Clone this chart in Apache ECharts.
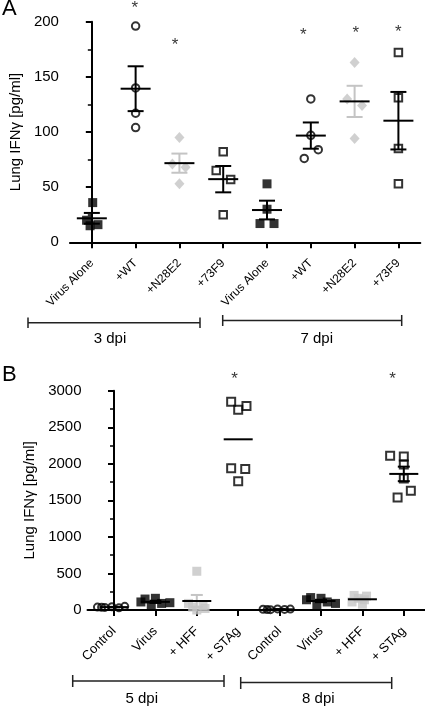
<!DOCTYPE html>
<html><head><meta charset="utf-8">
<script src="https://cdn.jsdelivr.net/npm/echarts@6/dist/echarts.min.js"></script>
<style>html,body{margin:0;padding:0;background:#fff}#c{width:425px;height:709px}</style>
</head><body><div id="c"></div><script>
// ---------- Panel A data ----------
const catsA = ['Virus Alone','+WT','+N28E2','+73F9','Virus Alone','+WT','+N28E2','+73F9'];
const ticksA = [0, 50, 100, 150, 200];
const virus3 = [36, 20, 15, 16];      const virus3J = [0.02, -0.12, -0.04, 0.14];
const wt3 = [196, 140, 117, 104];     const wt3J = [0, 0, 0, 0];
const n28e2_3 = [95, 71, 68, 53];     const n28e2_3J = [0, -0.16, 0.14, 0];
const f73_3 = [82, 65, 57, 25];       const f73_3J = [0, -0.16, 0.17, 0];
const virus7 = [53, 30, 17, 17];      const virus7J = [0, 0, -0.16, 0.16];
const wt7 = [130, 97, 84, 76];        const wt7J = [0, 0, 0.17, -0.15];
const n28e2_7 = [163, 130, 124, 94];  const n28e2_7J = [0, -0.17, 0.17, 0];
const f73_7 = [172, 131, 85, 53];     const f73_7J = [0, 0, 0, 0];
const starsA_x = [0.98, 1.9, 4.83, 6.03, 7.0];
const starsA_y = [216, 182, 191, 193, 194];

// ---------- Panel B data ----------
const catsB = ['Control','Virus','+ HFF','+ STAg','Control','Virus','+ HFF','+ STAg'];
const ticksB = [0, 500, 1000, 1500, 2000, 2500, 3000];
const ctrl5 = [40, 35, 45, 30, 50, 38];          const ctrl5J = [-0.4, -0.22, -0.05, 0.12, 0.26, -0.3];
const virus5 = [150, 160, 110, 90, 100, 60];     const virus5J = [-0.25, 0.0, -0.35, 0.15, 0.35, -0.1];
const hff5 = [530, 90, 60, 40, 20, 0];           const hff5J = [0, -0.2, 0.15, -0.1, 0.2, 0];
const stag5 = [2850, 2790, 2740, 1940, 1930, 1760]; const stag5J = [-0.17, 0.2, 0.0, -0.17, 0.17, 0];
const ctrl8 = [10, 5, 15, 8, 12, 6];             const ctrl8J = [-0.4, -0.22, -0.05, 0.12, 0.26, -0.3];
const virus8 = [170, 160, 140, 110, 90, 70];     const virus8J = [-0.25, 0.0, -0.35, 0.15, 0.35, -0.1];
const hff8 = [200, 190, 160, 140, 110, 80];      const hff8J = [-0.2, 0.1, -0.1, 0.05, -0.25, 0.0];
const stag8 = [2110, 2100, 1990, 1800, 1630, 1540]; const stag8J = [-0.33, 0.0, 0.0, 0.0, 0.17, -0.15];
const showErrB = [1, 1, 1, 0, 1, 1, 1, 1];
const starsB_x = [2.91, 6.73];
const starsB_y = [3215, 3215];

// ---------- helpers ----------
const BLACK = '#000', GRAY = '#c4c4c4';
const FONT = 'Liberation Sans, Arial, Helvetica, sans-serif';
function mean(a){ return a.reduce((s,v)=>s+v,0)/a.length; }
function sem(a){ const m=mean(a); const v=a.reduce((s,x)=>s+(x-m)*(x-m),0)/(a.length-1); return Math.sqrt(v/a.length); }
function pts(vals, jit, idx){ return vals.map((v,i)=>[idx + jit[i], v]); }

const groupsA = [[virus3,virus3J],[wt3,wt3J],[n28e2_3,n28e2_3J],[f73_3,f73_3J],[virus7,virus7J],[wt7,wt7J],[n28e2_7,n28e2_7J],[f73_7,f73_7J]];
const grayA = [0,0,1,0,0,0,1,0];
const groupsB = [[ctrl5,ctrl5J],[virus5,virus5J],[hff5,hff5J],[stag5,stag5J],[ctrl8,ctrl8J],[virus8,virus8J],[hff8,hff8J],[stag8,stag8J]];
const grayB = [0,0,1,0,0,0,1,0];

function msData(groups, gray, show){
  return groups.map((g,i)=>[i, mean(g[0]), sem(g[0]), gray[i], show ? show[i] : 1]);
}
function makeRender(halfW, capW){
  return function(params, api){
    const x = api.value(0), m = api.value(1), s = api.value(2), g = api.value(3), sh = api.value(4);
    const c = api.coord([x, m]);
    const children = [];
    const col = g ? GRAY : BLACK;
    if (sh) {
      const t = api.coord([x, m + s]), b = api.coord([x, m - s]);
      children.push({type:'line', shape:{x1:c[0], y1:t[1], x2:c[0], y2:b[1]}, style:{stroke:col, lineWidth:2}});
      children.push({type:'line', shape:{x1:c[0]-capW, y1:t[1], x2:c[0]+capW, y2:t[1]}, style:{stroke:col, lineWidth:2}});
      children.push({type:'line', shape:{x1:c[0]-capW, y1:b[1], x2:c[0]+capW, y2:b[1]}, style:{stroke:col, lineWidth:2}});
    }
    children.push({type:'line', shape:{x1:c[0]-halfW, y1:c[1], x2:c[0]+halfW, y2:c[1]}, style:{stroke:BLACK, lineWidth:2}});
    return {type:'group', children};
  };
}

function xAxisCfg(grid, min, cats, fs){
  return {
    gridIndex: grid, type:'value', min:min, max:7.5,
    axisLine:{show:true, onZero:false, lineStyle:{color:BLACK, width:2}},
    axisTick:{show:true, customValues:[0,1,2,3,4,5,6,7], length:6, lineStyle:{color:BLACK, width:2}},
    axisLabel:{show:true, customValues:[0,1,2,3,4,5,6,7], rotate:45, margin:19, fontSize:fs, fontFamily:FONT, color:BLACK,
      formatter:(v)=>cats[Math.round(v)]},
    splitLine:{show:false}
  };
}
function yAxisCfg(grid, max, interval, gap, ticks, lblMargin){
  return {
    gridIndex: grid, type:'value', min:0, max:max, interval:interval,
    name:'Lung IFNγ [pg/ml]', nameLocation:'middle', nameGap:gap,
    nameTextStyle:{fontSize:15, fontFamily:FONT, color:BLACK},
    axisLine:{show:true, lineStyle:{color:BLACK, width:2}},
    axisTick:{show:true, length:6, lineStyle:{color:BLACK, width:2}},
    minorTick:{show:true, splitNumber:2, length:4, lineStyle:{color:BLACK, width:1.5}},
    axisLabel:{fontSize:15, fontFamily:FONT, color:BLACK, margin:lblMargin,
      formatter:(v)=>{ const t = ticks.find(k=>Math.abs(k-v)<1e-6); return t===undefined ? '' : String(t); }},
    splitLine:{show:false}
  };
}

const openCircle = {symbol:'circle', symbolSize:7.5, itemStyle:{color:'rgba(255,255,255,0)', borderColor:BLACK, borderWidth:2}};
const openSquare = {symbol:'rect', symbolSize:7.5, itemStyle:{color:'rgba(255,255,255,0)', borderColor:BLACK, borderWidth:2}};
const fillSquare = {symbol:'rect', symbolSize:9, itemStyle:{color:BLACK}};
const grayDiamond = {symbol:'diamond', symbolSize:[10,11], itemStyle:{color:GRAY}};
const graySquare = {symbol:'rect', symbolSize:9, itemStyle:{color:GRAY}};

function sc(ax, style, data){
  return Object.assign({type:'scatter', xAxisIndex:ax, yAxisIndex:ax, clip:false, data:data, z:2}, style);
}
function starSeries(ax, xs, ys){
  return {type:'scatter', xAxisIndex:ax, yAxisIndex:ax, clip:false, symbolSize:1, itemStyle:{color:'rgba(0,0,0,0)'},
    silent:true, z:5,
    label:{show:true, position:'inside', formatter:'*', fontSize:17, fontFamily:FONT, color:BLACK, offset:[0,4]},
    data: xs.map((x,i)=>[x, ys[i]])};
}

const chart = echarts.init(document.getElementById('c'), null, {renderer:'canvas'});
chart.setOption({
  animation:false,
  backgroundColor:'#fff',
  grid:[
    {left:68.7, right:4.7, top:21.7, bottom:709-242.3},
    {left:87.5, right:0.5, top:390.7, bottom:99}
  ],
  xAxis:[xAxisCfg(0, -0.5, catsA, 12), xAxisCfg(1, -0.64, catsB, 13)],
  yAxis:[yAxisCfg(0, 200, 50, 44, ticksA, 11), yAxisCfg(1, 3000, 500, 47, ticksB, 6)],
  series:[
    sc(0, fillSquare, pts(virus3, virus3J, 0).concat(pts(virus7, virus7J, 4))),
    sc(0, openCircle, pts(wt3, wt3J, 1).concat(pts(wt7, wt7J, 5))),
    sc(0, grayDiamond, pts(n28e2_3, n28e2_3J, 2).concat(pts(n28e2_7, n28e2_7J, 6))),
    sc(0, openSquare, pts(f73_3, f73_3J, 3).concat(pts(f73_7, f73_7J, 7))),
    {type:'custom', xAxisIndex:0, yAxisIndex:0, clip:false, z:4, renderItem:makeRender(15, 8),
      encode:{x:0, y:1}, data:msData(groupsA, grayA, null)},
    starSeries(0, starsA_x, starsA_y),

    sc(1, Object.assign({}, openCircle, {symbolSize:7}), pts(ctrl5, ctrl5J, 0).concat(pts(ctrl8, ctrl8J, 4))),
    sc(1, fillSquare, pts(virus5, virus5J, 1).concat(pts(virus8, virus8J, 5))),
    sc(1, graySquare, pts(hff5, hff5J, 2).concat(pts(hff8, hff8J, 6))),
    sc(1, Object.assign({}, openSquare, {symbolSize:8}), pts(stag5, stag5J, 3).concat(pts(stag8, stag8J, 7))),
    {type:'custom', xAxisIndex:1, yAxisIndex:1, clip:false, z:4, renderItem:makeRender(14.5, 6),
      encode:{x:0, y:1}, data:msData(groupsB, grayB, showErrB)},
    starSeries(1, starsB_x, starsB_y)
  ],
  graphic:[
    {type:'text', left:2, top:-2, style:{text:'A', fontSize:22, fontFamily:FONT, fill:BLACK}},
    {type:'text', left:2, top:364, style:{text:'B', fontSize:22, fontFamily:FONT, fill:BLACK}},
    // brackets A
    {type:'polyline', shape:{points:[[28,317.5],[28,328],[28,322.8],[200,322.8],[200,317.5],[200,328]]}, style:{stroke:'#222', lineWidth:1.5, fill:null}},
    {type:'polyline', shape:{points:[[222.7,315],[222.7,326],[222.7,320.5],[401.7,320.5],[401.7,315],[401.7,326]]}, style:{stroke:'#222', lineWidth:1.5, fill:null}},
    {type:'text', x:110, y:339, style:{text:'3 dpi', fontSize:15, fontFamily:FONT, fill:BLACK, align:'center', verticalAlign:'middle'}},
    {type:'text', x:316.7, y:339, style:{text:'7 dpi', fontSize:15, fontFamily:FONT, fill:BLACK, align:'center', verticalAlign:'middle'}},
    // brackets B
    {type:'polyline', shape:{points:[[72.7,675],[72.7,687],[72.7,681],[224,681],[224,675],[224,687]]}, style:{stroke:'#222', lineWidth:1.5, fill:null}},
    {type:'polyline', shape:{points:[[240.7,677],[240.7,689],[240.7,682.5],[391.7,682.5],[391.7,677],[391.7,689]]}, style:{stroke:'#222', lineWidth:1.5, fill:null}},
    {type:'text', x:141.7, y:699, style:{text:'5 dpi', fontSize:15, fontFamily:FONT, fill:BLACK, align:'center', verticalAlign:'middle'}},
    {type:'text', x:318.3, y:699, style:{text:'8 dpi', fontSize:15, fontFamily:FONT, fill:BLACK, align:'center', verticalAlign:'middle'}}
  ]
});
</script></body></html>
